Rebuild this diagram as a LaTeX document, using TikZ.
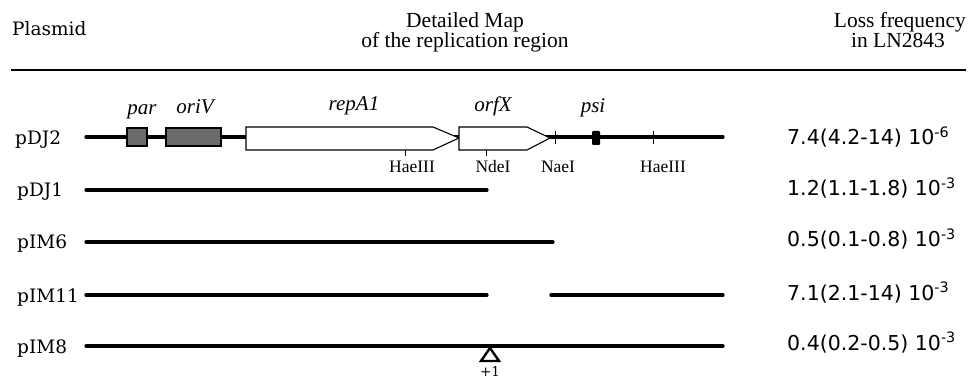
\documentclass[tikz,border=0pt]{standalone}
\usepackage{fontspec}
\setmainfont{Liberation Serif}
\newfontfamily\labfont{DejaVu Serif}
\newfontfamily\numfont{DejaVu Sans}
\begin{document}
\begin{tikzpicture}[x=1pt,y=-1pt,
  hdr/.style={inner sep=0pt,font=\fontsize{21.5}{24}\selectfont},
  rowlab/.style={inner sep=0pt,anchor=base west,font=\labfont\fontsize{18.5}{20}\selectfont},
  freq/.style={inner sep=0pt,anchor=base west,font=\numfont\fontsize{20.5}{22}\selectfont},
  gene/.style={inner sep=0pt,anchor=base,font=\itshape\fontsize{21}{24}\selectfont},
  site/.style={inner sep=0pt,anchor=base,font=\fontsize{17.5}{20}\selectfont},
  dna/.style={line width=3.2pt,line cap=round},
  genebox/.style={draw,line width=1.2pt,fill=black!58},
  orf/.style={draw,line width=1.1pt,fill=white,line join=miter},
  tick/.style={line width=1pt},
  rule/.style={line width=1.4pt}]
\useasboundingbox (0,0) rectangle (974,379);
% header
\node[hdr,anchor=base west,font=\labfont\fontsize{18.5}{20}\selectfont] (hplas) at (12,36) {Plasmid};
\node[hdr,anchor=base] (hmap1) at (465,28) {Detailed Map};
\node[hdr,anchor=base] (hmap2) at (465,48) {of the replication region};
\node[hdr,anchor=base east] (hloss1) at (966,28) {Loss frequency};
\node[hdr,anchor=base] (hloss2) at (898,48) {in LN2843};
\coordinate (rl) at (11,70);
\coordinate (rr) at (966,70);
\draw[rule] (rl) -- (rr);
% row labels
\node[rowlab] (l1) at (15,145) {pDJ2};
\node[rowlab] (l2) at (17,197) {pDJ1};
\node[rowlab] (l3) at (17,249) {pIM6};
\node[rowlab] (l4) at (17,302) {pIM11};
\node[rowlab] (l5) at (17,353) {pIM8};
% frequencies
\node[freq] (f1) at (787,145) {7.4(4.2-14) 10\textsuperscript{-6}};
\node[freq] (f2) at (787,196) {1.2(1.1-1.8) 10\textsuperscript{-3}};
\node[freq] (f3) at (787,247) {0.5(0.1-0.8) 10\textsuperscript{-3}};
\node[freq] (f4) at (787,300) {7.1(2.1-14) 10\textsuperscript{-3}};
\node[freq] (f5) at (787,350) {0.4(0.2-0.5) 10\textsuperscript{-3}};
% pDJ2 map
\coordinate (a1) at (86,137);
\coordinate (a2) at (723,137);
\draw[dna] (a1) -- (a2);
\draw[genebox] (127,128) rectangle (147,146);
\draw[genebox] (166,128) rectangle (221,146);
\draw[orf] (246,127) -- (433,127) -- (459,138) -- (433,150) -- (246,150) -- cycle;
\draw[orf] (459,127) -- (527,127) -- (550,138) -- (527,150) -- (459,150) -- cycle;
\fill[rounded corners=1pt] (592,131) rectangle (600,145);
\draw[tick] (405,150) -- (405,156);
\draw[tick] (486,150) -- (486,156);
\draw[tick] (555,131) -- (555,144);
\draw[tick] (653,131) -- (653,144);
\node[gene] (gpar) at (142,115) {par};
\node[gene] (gori) at (195,114) {oriV};
\node[gene] (grep) at (354,111) {repA1};
\node[gene] (gorf) at (493,112) {orfX};
\node[gene] (gpsi) at (593,113) {psi};
\node[site] (s1) at (412,173) {HaeIII};
\node[site] (s2) at (493,173) {NdeI};
\node[site] (s3) at (558,173) {NaeI};
\node[site] (s4) at (663,173) {HaeIII};
% deletion derivatives
\coordinate (b1) at (86,190); \coordinate (b2) at (487,190);
\draw[dna] (b1) -- (b2);
\coordinate (c1) at (86,242); \coordinate (c2) at (553,242);
\draw[dna] (c1) -- (c2);
\coordinate (d1) at (86,295); \coordinate (d2) at (487,295);
\coordinate (d3) at (551,295); \coordinate (d4) at (723,295);
\draw[dna] (d1) -- (d2);
\draw[dna] (d3) -- (d4);
\coordinate (e1) at (86,346); \coordinate (e2) at (723,346);
\draw[dna] (e1) -- (e2);
\draw[line width=2.4pt,fill=white,line join=miter] (490,348) -- (481,361) -- (499,361) -- cycle;
\node[inner sep=0pt,anchor=base,font=\labfont\fontsize{13.5}{15}\selectfont] (ins) at (490,376) {+1};
\end{tikzpicture}
\end{document}
